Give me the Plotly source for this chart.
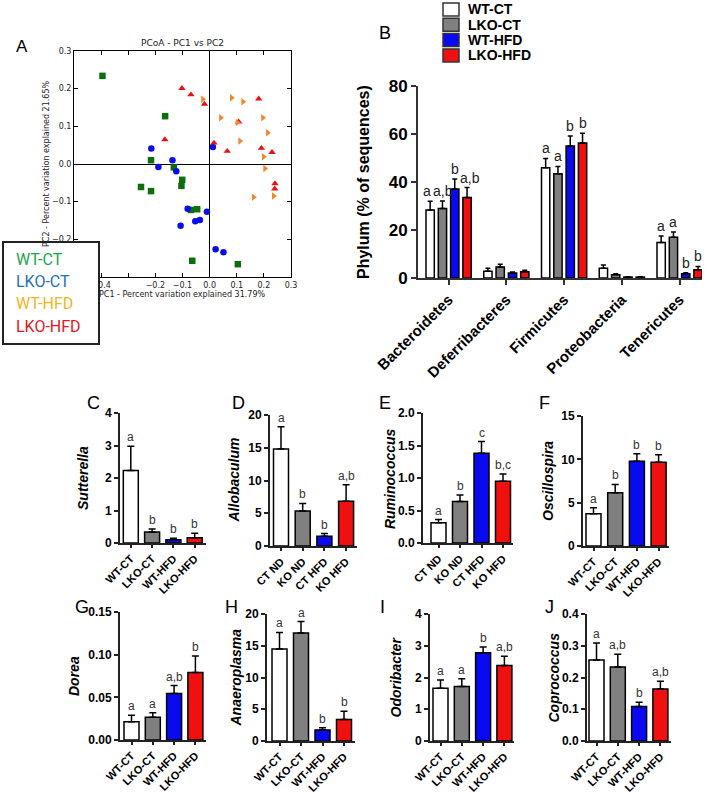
import plotly.graph_objects as go

W, H = 712, 794
def fx(px): return px / W
def fy(py): return 1 - py / H

# ---------------- Panel A data (PCoA) ----------------
wtct_x = [-0.395, -0.164, -0.216, -0.132, -0.101, -0.104, -0.253, -0.216, -0.069, -0.046, -0.064, 0.104]
wtct_y = [0.234, 0.127, 0.010, -0.009, -0.042, -0.058, -0.061, -0.072, -0.122, -0.120, -0.257, -0.266]
lkoct_x = [-0.215, -0.189, -0.137, -0.123, 0.012, -0.081, -0.107, -0.053, -0.036, -0.010, 0.022, 0.051]
lkoct_y = [0.041, -0.008, 0.010, -0.019, 0.045, -0.119, -0.164, -0.152, -0.149, -0.127, -0.226, -0.234]
lkohfd_x = [-0.102, -0.069, -0.019, -0.165, 0.016, 0.065, 0.107, 0.181, 0.191, 0.230, 0.241, 0.240]
lkohfd_y = [0.201, 0.184, 0.159, 0.065, 0.056, 0.034, 0.112, 0.173, 0.042, 0.031, -0.052, -0.066]
wthfd_x = [-0.025, 0.041, 0.081, 0.123, 0.102, 0.112, 0.196, 0.214, 0.199, 0.204, 0.162, 0.236]
wthfd_y = [0.172, 0.123, 0.176, 0.165, 0.110, 0.061, 0.123, 0.083, 0.019, -0.012, -0.088, -0.085]

pcoa_xticks = [-0.5, -0.4, -0.3, -0.2, -0.1, 0.0, 0.1, 0.2, 0.3]
pcoa_yticks = [-0.3, -0.2, -0.1, 0.0, 0.1, 0.2, 0.3]
pcoa_hidden = [-0.5, -0.3]   # labels hidden under the legend box

# ---------------- Panel B data (phylum) ----------------
groups = ["WT-CT", "LKO-CT", "WT-HFD", "LKO-HFD"]
phyla = ["Bacteroidetes", "Deferribacteres", "Firmicutes", "Proteobacteria", "Tenericutes"]
B_wtct = [28.3, 2.8, 45.9, 4.1, 14.8]
B_wtct_err = [3.7, 1.3, 3.9, 1.3, 2.7]
B_lkoct = [29.0, 4.6, 43.4, 1.4, 17.0]
B_lkoct_err = [3.1, 1.1, 3.1, 0.4, 2.2]
B_wthfd = [37.1, 2.1, 55.0, 0.4, 1.8]
B_wthfd_err = [4.1, 0.4, 4.2, 0.1, 0.4]
B_lkohfd = [33.5, 2.6, 56.3, 0.4, 3.4]
B_lkohfd_err = [4.2, 0.6, 4.0, 0.1, 1.4]
B_letters_wtct = ["a", "", "a", "", "a"]
B_letters_lkoct = ["a,b", "", "a", "", "a"]
B_letters_wthfd = ["b", "", "b", "", "b"]
B_letters_lkohfd = ["a,b", "", "b", "", "b"]

# ---------------- Panels C-J data (genera) ----------------
cats_geno = ["WT-CT", "LKO-CT", "WT-HFD", "LKO-HFD"]
cats_diet = ["CT ND", "KO ND", "CT HFD", "KO HFD"]

C_vals = [2.23, 0.34, 0.10, 0.16]; C_err = [0.75, 0.09, 0.05, 0.14]; C_let = ["a", "b", "b", "b"]
D_vals = [14.8, 5.36, 1.48, 6.84]; D_err = [3.4, 1.14, 0.42, 2.5]; D_let = ["a", "b", "b", "a,b"]
E_vals = [0.31, 0.64, 1.38, 0.95]; E_err = [0.05, 0.10, 0.18, 0.11]; E_let = ["a", "b", "c", "b,c"]
F_vals = [3.73, 6.15, 9.77, 9.65]; F_err = [0.69, 0.95, 0.88, 0.89]; F_let = ["a", "b", "b", "b"]
G_vals = [0.0215, 0.0266, 0.0544, 0.079]; G_err = [0.0075, 0.0054, 0.0094, 0.0195]; G_let = ["a", "a", "a,b", "b"]
H_vals = [14.5, 17.0, 1.74, 3.4]; H_err = [2.6, 1.8, 0.36, 1.3]; H_let = ["a", "a", "b", "b"]
I_vals = [1.66, 1.72, 2.78, 2.38]; I_err = [0.26, 0.24, 0.18, 0.29]; I_let = ["a", "a", "b", "a,b"]
J_vals = [0.255, 0.233, 0.109, 0.164]; J_err = [0.054, 0.040, 0.013, 0.024]; J_let = ["a", "a,b", "b", "a,b"]

bar_colors = ["#ffffff", "#808080", "#0a0af0", "#f01010"]

FONT = "Arial, Liberation Sans, sans-serif"
fig = go.Figure()
annotations = []
shapes = []
layout = {}

def ptext(text, px, py, size, color="black", family=FONT, angle=0, xanchor="center", yanchor="middle"):
    return dict(text=text, x=fx(px), y=fy(py), xref="paper", yref="paper", showarrow=False,
                xanchor=xanchor, yanchor=yanchor, textangle=angle,
                font=dict(family=family, size=size, color=color))

# ================= Panel A =================
for xs, ys, sym, col in [
    (wtct_x, wtct_y, "square", "#0b700b"),
    (lkoct_x, lkoct_y, "circle", "#0a0af0"),
    (lkohfd_x, lkohfd_y, "triangle-up", "#e81010"),
    (wthfd_x, wthfd_y, "triangle-right", "#f5872a"),
]:
    fig.add_trace(go.Scatter(x=xs, y=ys, mode="markers", xaxis="x", yaxis="y",
                             marker=dict(symbol=sym, color=col, size=6.5, line=dict(width=0)),
                             showlegend=False, cliponaxis=False))

def mfmt(v):
    if any(abs(v - h) < 1e-9 for h in pcoa_hidden):
        return ""
    s = f"{abs(v):.1f}"
    return ("\u2212" + s) if v < -1e-9 else s

axA = dict(showline=True, mirror="allticks", linecolor="black", linewidth=1, automargin=False,
           ticks="inside", ticklen=4, tickcolor="black", showgrid=False,
           zeroline=True, zerolinecolor="black", zerolinewidth=1,
           tickfont=dict(family="DejaVu Sans", size=8, color="#222"))
layout["xaxis"] = dict(domain=[fx(74), fx(291)], anchor="y", range=[-0.5, 0.3],
                       tickvals=pcoa_xticks, ticktext=[mfmt(v) for v in pcoa_xticks], **axA)
layout["yaxis"] = dict(domain=[fy(277), fy(51)], anchor="x", range=[-0.3, 0.3],
                       tickvals=pcoa_yticks, ticktext=[mfmt(v) for v in pcoa_yticks], **axA)
annotations += [
    ptext("PCoA - PC1 vs PC2", 182, 43, 9, "#222", "DejaVu Sans"),
    ptext("PC1 - Percent variation explained 31.79%", 182, 294, 8, "#222", "DejaVu Sans"),
    ptext("PC2 - Percent variation explained 21.65%", 46, 164, 8, "#222", "DejaVu Sans", angle=-90),
    ptext("A", 14, 46, 17, xanchor="left"),
]
shapes.append(dict(type="rect", xref="paper", yref="paper", x0=fx(3), x1=fx(99), y0=fy(344), y1=fy(242),
                   fillcolor="white", line=dict(color="#222", width=2), layer="above"))
for txt, col, yy in [("WT-CT", "#1aa64a", 259), ("LKO-CT", "#1f6ec4", 281),
                     ("WT-HFD", "#f5b324", 303), ("LKO-HFD", "#e8141c", 326)]:
    annotations.append(ptext(txt, 14, yy, 16, col, "Roboto", xanchor="left"))

# ================= Panel B =================
gc0, gp = 448.6, 57.75
bpitch = 12.3 / gp
bwidth = 8.3 / gp
Bsets = [(B_wtct, B_wtct_err, B_letters_wtct), (B_lkoct, B_lkoct_err, B_letters_lkoct),
         (B_wthfd, B_wthfd_err, B_letters_wthfd), (B_lkohfd, B_lkohfd_err, B_letters_lkohfd)]
xcat = list(range(len(phyla)))
for i, (vals, errs, lets) in enumerate(Bsets):
    off = (i - 1.5) * bpitch - bwidth / 2
    fig.add_trace(go.Bar(x=xcat, y=vals, xaxis="x2", yaxis="y2", width=bwidth, offset=off,
                         marker=dict(color=bar_colors[i], line=dict(color="black", width=1.5)),
                         error_y=dict(type="data", array=errs, arrayminus=[0] * len(errs), symmetric=False,
                                      color="black", thickness=1.5, width=2.5),
                         showlegend=False))
    for k, lt in enumerate(lets):
        if lt:
            shift = 0
            if i == 0 and B_letters_lkoct[k] == "a,b":
                shift = -3
            elif i == 1 and lt == "a,b":
                shift = 1
            elif i == 3 and lt == "a,b":
                shift = 3
            annotations.append(dict(text=lt, x=k + (i - 1.5) * bpitch, y=vals[k] + errs[k],
                                    xref="x2", yref="y2", xanchor="center", yanchor="bottom",
                                    xshift=shift, showarrow=False,
                                    font=dict(family=FONT, size=14, color="#222")))

layout["xaxis2"] = dict(domain=[fx(418), fx(702)], anchor="y2", automargin=False,
                        range=[(418 - gc0) / gp, (702 - gc0) / gp],
                        tickvals=xcat, ticktext=phyla, tickangle=-45,
                        showline=True, linecolor="#333", linewidth=2, ticks="outside", ticklen=5,
                        tickwidth=1.5, tickcolor="#333", showgrid=False, zeroline=False,
                        tickfont=dict(family=FONT, size=15, color="black", weight="bold"))
layout["yaxis2"] = dict(domain=[fy(278), fy(86)], anchor="x2", range=[0, 80], dtick=20, automargin=False,
                        showline=True, linecolor="#333", linewidth=2, ticks="outside", ticklen=5,
                        tickwidth=1.5, tickcolor="#333", showgrid=False, zeroline=False,
                        tickfont=dict(family=FONT, size=17, color="black", weight="bold"))
annotations += [
    ptext("<b>Phylum (% of sequences)</b>", 364, 182, 16, angle=-90),
    ptext("B", 377, 33, 18, xanchor="left"),
]
for i, g in enumerate(groups):
    cy = 9.5 + i * 15.3
    shapes.append(dict(type="rect", xref="paper", yref="paper", x0=fx(443), x1=fx(459),
                       y0=fy(cy + 6.5), y1=fy(cy - 6.5), fillcolor=bar_colors[i],
                       line=dict(color="#333", width=1.5)))
    annotations.append(ptext("<b>" + g + "</b>", 466, cy, 14, xanchor="left"))

# ================= Panels C-J =================
panels = [
    ("C", C_vals, C_err, C_let, cats_geno, "Sutterella", 4, 1, None, 120, 130.8, 21.3, 206, 413, 543, 85, 403, 83),
    ("D", D_vals, D_err, D_let, cats_diet, "Allobaculum", 20, 5, None, 270, 281.0, 21.7, 357, 415, 546, 230, 403, 233),
    ("E", E_vals, E_err, E_let, cats_diet, "Ruminococcus", 2.0, 0.5, ".1f", 423, 438.5, 21.5, 513, 413, 543, 377, 403, 390),
    ("F", F_vals, F_err, F_let, cats_geno, "Oscillospira", 15, 5, None, 583, 593.5, 21.7, 669, 416, 546, 537, 403, 548),
    ("G", G_vals, G_err, G_let, cats_geno, "Dorea", 0.15, 0.05, ".2f", 120, 131.5, 21.3, 206, 612, 740, 73, 607, 74),
    ("H", H_vals, H_err, H_let, cats_geno, "Anaeroplasma", 20, 5, None, 267, 279.5, 21.5, 355, 614, 741, 223, 607, 235),
    ("I", I_vals, I_err, I_let, cats_geno, "Odoribacter", 4, 1, None, 430, 440.5, 21.3, 514, 614, 741, 378, 607, 395),
    ("J", J_vals, J_err, J_let, cats_geno, "Coprococcus", 0.4, 0.1, ".1f", 587, 596.5, 21.3, 671, 614, 741, 543, 607, 553),
]
for n, (lab, vals, errs, lets, cats, ylab, ymax, dt, fmt, L, c0, p, R, top, bot, lx, ly, ytx) in enumerate(panels):
    ax = n + 3
    xa, ya = f"x{ax}", f"y{ax}"
    xc = list(range(len(cats)))
    fig.add_trace(go.Bar(x=xc, y=vals, xaxis=xa, yaxis=ya, width=15 / p,
                         marker=dict(color=bar_colors, line=dict(color="black", width=1.5)),
                         error_y=dict(type="data", array=errs, arrayminus=[0] * len(errs), symmetric=False,
                                      color="black", thickness=1.5, width=3.5),
                         showlegend=False))
    for k, lt in enumerate(lets):
        annotations.append(dict(text=lt, x=k, y=vals[k] + errs[k], xref=xa, yref=ya,
                                xanchor="center", yanchor="bottom", showarrow=False,
                                font=dict(family=FONT, size=12, color="#333")))
    yax = dict(domain=[fy(bot), fy(top)], anchor=xa, range=[0, ymax], dtick=dt, automargin=False,
               showline=True, linecolor="#222", linewidth=2, ticks="outside", ticklen=4,
               tickwidth=1.5, tickcolor="#222", showgrid=False, zeroline=False,
               tickfont=dict(family=FONT, size=12, color="black", weight="bold"))
    if fmt:
        yax["tickformat"] = fmt
    layout["yaxis" + str(ax)] = yax
    layout["xaxis" + str(ax)] = dict(domain=[fx(L), fx(R)], anchor=ya, automargin=False,
                                     range=[(L - c0) / p, (R - c0) / p],
                                     tickvals=xc, ticktext=cats, tickangle=-45,
                                     showline=True, linecolor="#222", linewidth=2, ticks="outside",
                                     ticklen=3, tickwidth=1.5, tickcolor="#222",
                                     showgrid=False, zeroline=False,
                                     tickfont=dict(family=FONT, size=11, color="black", weight="bold"))
    annotations.append(ptext("<b><i>" + ylab + "</i></b>", ytx, (top + bot) / 2, 14, angle=-90))
    annotations.append(ptext(lab, lx, ly, 18, xanchor="left"))

fig.update_layout(**layout)
fig.update_layout(width=W, height=H, margin=dict(l=0, r=0, t=0, b=0, pad=0, autoexpand=False),
                  paper_bgcolor="white", plot_bgcolor="rgba(0,0,0,0)",
                  barmode="overlay", showlegend=False,
                  annotations=annotations, shapes=shapes,
                  font=dict(family=FONT))
fig.write_html("out.html", config={"displayModeBar": False},
               post_script="document.body.style.margin='0';")
